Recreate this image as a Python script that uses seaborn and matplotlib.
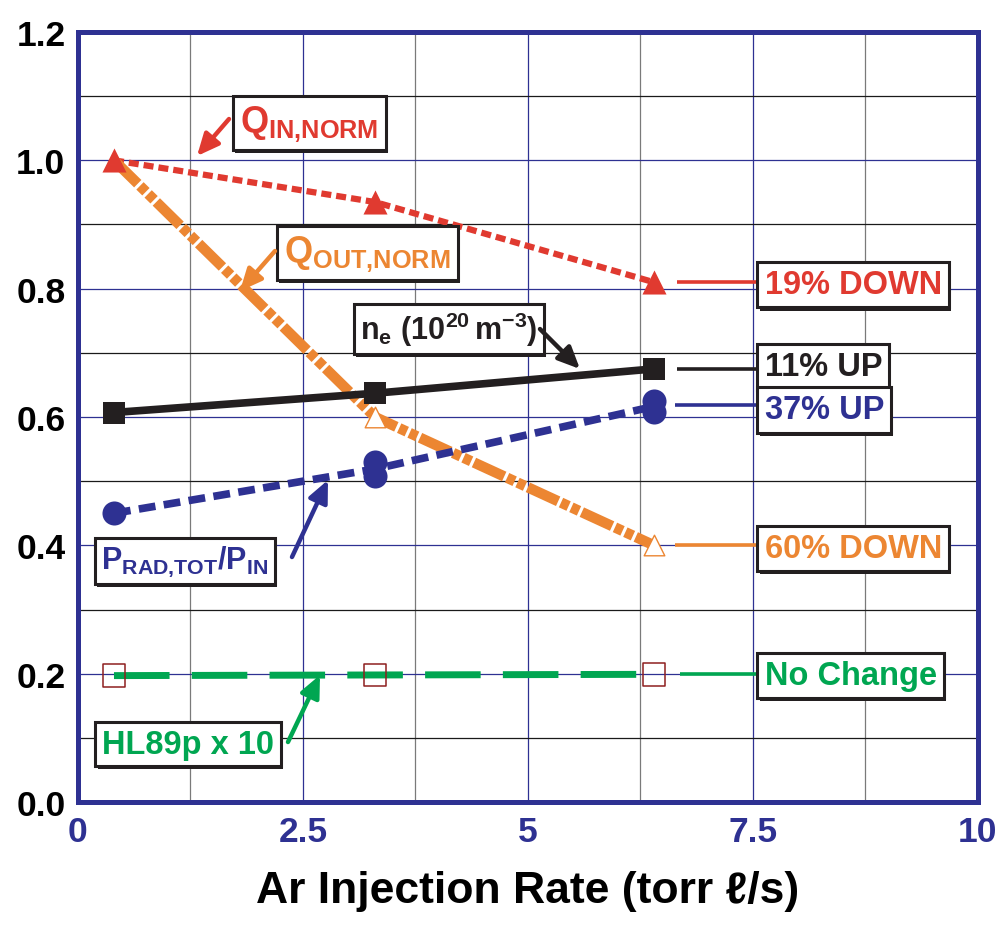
import numpy as np
import pandas as pd
import matplotlib
matplotlib.use("Agg")
import matplotlib.pyplot as plt
import matplotlib.patheffects as pe
import seaborn as sns
from matplotlib.ticker import MultipleLocator

# Argon injection rate (torr l/s) for the three discharges
ar_rate = [0.4, 3.3, 6.4]
q_in_norm = [1.0, 0.935, 0.81]
q_out_norm = [1.0, 0.6, 0.4]
n_e = [0.607, 0.637, 0.675]
prad_x = [0.4, 3.3, 3.3, 6.4, 6.4]
prad_frac = [0.45, 0.53, 0.508, 0.625, 0.608]
hl89p_x10 = [0.197, 0.198, 0.199]

change_labels = ["19% DOWN", "11% UP", "37% UP", "60% DOWN", "No Change"]
change_levels = [0.81, 0.675, 0.618, 0.4, 0.2]
x_ticks = [0, 2.5, 5, 7.5, 10]
x_tick_labels = ["0", "2.5", "5", "7.5", "10"]
y_ticks = [0.0, 0.2, 0.4, 0.6, 0.8, 1.0, 1.2]
y_tick_labels = ["0.0", "0.2", "0.4", "0.6", "0.8", "1.0", "1.2"]

RED = "#e03a30"
ORANGE = "#ec8632"
BLUE = "#2e3192"
GREEN = "#00a651"
BLACK = "#231f20"
DARKRED = "#8e1f1f"

sns.set_theme(style="white")
FONT = ["Liberation Sans", "DejaVu Sans"]
plt.rcParams["font.family"] = FONT
plt.rcParams["font.weight"] = "bold"
plt.rcParams["mathtext.fontset"] = "custom"
plt.rcParams["mathtext.rm"] = "Liberation Sans:bold"
plt.rcParams["mathtext.it"] = "Liberation Sans:bold"
plt.rcParams["mathtext.bf"] = "Liberation Sans:bold"

LABEL_SIZE = 23.5
BOX_SHADOW = [pe.SimplePatchShadow(offset=(1.5, -2.2), shadow_rgbFace=BLACK,
                                   alpha=1.0), pe.Normal()]

fig = plt.figure(figsize=(9.96, 9.29), dpi=100)
ax = fig.add_axes([0.0783, 0.1356, 0.9036, 0.8289])

# grid: blue at major steps, dark/gray at the half steps
ax.set_xlim(0, 10)
ax.set_ylim(0, 1.2)
ax.xaxis.set_major_locator(MultipleLocator(2.5))
ax.xaxis.set_minor_locator(MultipleLocator(1.25))
ax.yaxis.set_major_locator(MultipleLocator(0.2))
ax.yaxis.set_minor_locator(MultipleLocator(0.1))
ax.set_axisbelow(True)
ax.grid(which="major", color=BLUE, linewidth=0.9)
ax.xaxis.grid(which="minor", color="#7a7a7a", linewidth=0.9)
ax.yaxis.grid(which="minor", color="#1a1a1a", linewidth=0.9)

# Q_IN,NORM
sns.lineplot(x=ar_rate, y=q_in_norm, ax=ax, color=RED, linewidth=4.5, zorder=3)
ax.lines[-1].set_dashes((1.6, 0.8))
# Q_OUT,NORM
sns.lineplot(x=ar_rate, y=q_out_norm, ax=ax, color=ORANGE, linewidth=7.5, zorder=3)
ax.lines[-1].set_dashes((3.2, 0.3, 0.8, 0.3, 0.8, 0.3))
sns.scatterplot(x=ar_rate[1:], y=q_out_norm[1:], ax=ax, marker="^", s=220,
                facecolor="white", edgecolor=ORANGE, linewidth=1.0, zorder=4)
sns.scatterplot(x=ar_rate, y=q_in_norm, ax=ax, marker="^", s=300,
                color=RED, edgecolor=RED, linewidth=0, zorder=5)
# n_e
sns.lineplot(x=ar_rate, y=n_e, ax=ax, color=BLACK, linewidth=5.5, zorder=3)
sns.scatterplot(x=ar_rate, y=n_e, ax=ax, marker="s", s=260,
                color=BLACK, linewidth=0, zorder=5)
# P_RAD,TOT / P_IN (line through the mean of repeated shots)
sns.lineplot(x=prad_x, y=prad_frac, ax=ax, color=BLUE, linewidth=5.5,
             errorbar=None, zorder=3)
ax.lines[-1].set_dashes((2.2, 1.1))
sns.scatterplot(x=prad_x, y=prad_frac, ax=ax, marker="o", s=300,
                color=BLUE, linewidth=0, zorder=5)
# HL89p x 10
sns.lineplot(x=ar_rate, y=hl89p_x10, ax=ax, color=GREEN, linewidth=5,
             zorder=3)
ax.lines[-1].set_dashes((8, 3.2))
sns.scatterplot(x=ar_rate, y=hl89p_x10, ax=ax, marker="s", s=260,
                facecolor="none", edgecolor=DARKRED, linewidth=1.1, zorder=4)

# change callouts on the right
callout_colors = [RED, BLACK, BLUE, ORANGE, GREEN]
callout_start = [6.66, 6.66, 6.63, 6.63, 6.69]
callout_text_y = [0.806, 0.678, 0.611, 0.395, 0.197]
for lbl, lvl, col, x0, ty in zip(change_labels, change_levels, callout_colors,
                                 callout_start, callout_text_y):
    ax.plot([x0, 7.53], [lvl, lvl], color=col, linewidth=2.6, zorder=3,
            solid_capstyle="butt")
    t = ax.text(7.63, ty, lbl, color=col, fontsize=LABEL_SIZE,
                fontweight="bold", ha="left", va="center", zorder=6,
                bbox=dict(boxstyle="square,pad=0.22", facecolor="white",
                          edgecolor=BLACK, linewidth=2.2))
    t.get_bbox_patch().set_path_effects(BOX_SHADOW)


def px(x_pix, y_pix):
    return ((x_pix - 78) / 90.0, (803 - y_pix) / 641.7)


def labelled_arrow(text, color, box_xy, tail, tip, size):
    bx, by = px(*box_xy)
    t = ax.text(bx, by, text, color=color, fontsize=size, ha="left",
                va="center", zorder=6,
                bbox=dict(boxstyle="square,pad=0.2", facecolor="white",
                          edgecolor=BLACK, linewidth=2.2))
    t.get_bbox_patch().set_path_effects(BOX_SHADOW)
    ax.annotate("", xy=px(*tip), xytext=px(*tail),
                arrowprops=dict(arrowstyle="-|>,head_length=1.1,head_width=0.5",
                                color=color, linewidth=3.2,
                                shrinkA=0, shrinkB=0),
                zorder=6)


labelled_arrow(r"$\mathrm{Q}_{\mathrm{IN{,}NORM}}$", RED, (240, 124),
               (229, 120), (197, 157), 26)
labelled_arrow(r"$\mathrm{Q}_{\mathrm{OUT{,}NORM}}$", ORANGE, (284, 254),
               (275, 252), (240, 292), 26)
labelled_arrow(r"$\mathrm{n_e\ (10^{20}\,m^{-3})}$", BLACK, (360, 330),
               (540, 330), (580, 370), 22)
labelled_arrow(r"$\mathrm{P_{RAD{,}TOT}/P_{IN}}$", BLUE, (101, 562),
               (292, 558), (328, 481), 22)
labelled_arrow("HL89p x 10", GREEN, (102, 745),
               (288, 743), (320, 676), LABEL_SIZE)

# axes frame and ticks
for sp in ax.spines.values():
    sp.set_color(BLUE)
    sp.set_linewidth(3.6)
ax.tick_params(which="both", length=0)
ax.set_xticks(x_ticks)
ax.set_xticklabels(x_tick_labels, fontsize=25.5, fontweight="bold", color=BLUE)
ax.set_yticks(y_ticks)
ax.set_yticklabels(y_tick_labels, fontsize=25.5, fontweight="bold", color="black")
ax.tick_params(axis="x", pad=9)
ax.tick_params(axis="y", pad=9)
ax.set_xlabel("Ar Injection Rate (torr \u2113/s)", fontsize=32,
              fontweight="bold", color="black", labelpad=16, family=FONT)
ax.set_ylabel("")

fig.savefig("out.png", dpi=100)
